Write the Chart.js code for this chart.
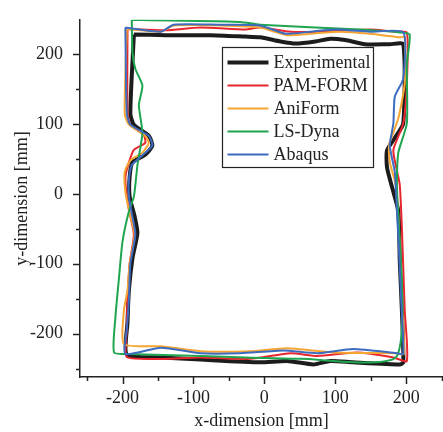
<!DOCTYPE html>
<html>
<head>
<meta charset="utf-8">
<script src="https://cdn.jsdelivr.net/npm/chart.js@4/dist/chart.umd.min.js"></script>
<style>
  html, body { margin: 0; padding: 0; background: #fff; }
  #wrap { width: 443px; height: 432px; }
</style>
</head>
<body>
<div id="wrap"><canvas id="myChart" width="443" height="432"></canvas></div>
<script>
// outlines of the formed part, traced clockwise from the top-left corner [x, y] in mm
const experimental = [
  [-184, 228], [-139, 227], [-76, 227], [-27, 225], [-6, 224], [23, 218], [44, 215], [72, 218],
  [93, 222], [114, 220], [142, 214], [177, 214], [196, 214],
  [196, 101], [184, 80], [173, 62], [173, 38], [180, 10], [189, -25], [191, -96], [194, -166], [196, -241],
  [191, -244], [125, -241], [93, -239], [69, -244], [32, -239], [-6, -241], [-90, -237], [-146, -234], [-194, -230],
  [-193, -184], [-191, -138], [-186, -92], [-179, -56], [-183, -32], [-190, -4], [-190, 24], [-186, 45],
  [-168, 56], [-158, 69], [-163, 83], [-184, 99], [-189, 115], [-184, 228]
]
const pamForm = [
  [-193, 236], [-139, 234], [-90, 238], [-27, 235], [-6, 238], [37, 232], [79, 232], [149, 235], [184, 232], [201, 231],
  [201, 158], [196, 101], [182, 63], [186, 38], [191, 13], [194, -49], [198, -166], [201, -239],
  [182, -234], [131, -227], [75, -232], [37, -228], [-20, -236], [-90, -234], [-193, -234],
  [-194, -194], [-193, -152], [-190, -100], [-184, -58], [-190, -28], [-194, -4], [-196, 24], [-191, 45],
  [-184, 63], [-168, 73], [-170, 84], [-189, 99], [-193, 115], [-193, 236]
]
const aniForm = [
  [-194, 236], [-146, 232], [-128, 241], [-62, 241], [-6, 238], [32, 227], [65, 229], [107, 232], [149, 229], [191, 224], [198, 224],
  [198, 158], [189, 108], [176, 70], [177, 45], [186, 10], [190, -53], [194, -152], [197, -229],
  [187, -228], [97, -227], [32, -221], [-20, -225], [-90, -225], [-146, -218], [-198, -215],
  [-198, -166], [-193, -138], [-190, -100], [-183, -58], [-190, -28], [-196, 3], [-197, 31], [-189, 48],
  [-172, 59], [-163, 73], [-169, 84], [-191, 99], [-197, 115], [-194, 236]
]
const lsDyna = [
  [-187, 249], [-132, 248], [-34, 246], [-6, 242], [135, 235], [191, 231], [205, 228],
  [201, 186], [201, 101], [189, 59], [187, 17], [187, -232],
  [51, -236], [-90, -232], [-193, -229], [-212, -227],
  [-210, -176], [-205, -120], [-200, -68], [-191, -25], [-184, -4], [-179, 41], [-172, 87],
  [-177, 127], [-172, 155], [-182, 179], [-186, 203], [-187, 249]
]
const abaqus = [
  [-196, 238], [-146, 232], [-128, 242], [-62, 242], [-6, 241], [30, 229], [65, 232], [100, 235], [149, 232], [196, 231],
  [196, 165], [184, 139], [182, 101], [177, 69], [184, 31], [187, -25], [190, -82], [193, -152], [196, -229],
  [187, -228], [125, -222], [75, -228], [27, -224], [-34, -228], [-90, -228], [-146, -220], [-196, -229],
  [-194, -194], [-191, -152], [-189, -100], [-182, -58], [-187, -28], [-191, -4], [-191, 20], [-187, 41],
  [-172, 55], [-158, 69], [-163, 83], [-189, 99], [-194, 115], [-196, 238]
]

const seriesNames = ['Experimental', 'PAM-FORM', 'AniForm', 'LS-Dyna', 'Abaqus']
const seriesData = [experimental, pamForm, aniForm, lsDyna, abaqus]
const seriesColors = ['#1c1c1c', '#e8262d', '#f5a533', '#1fa450', '#3d6bbf']
const seriesWidths = [4, 2, 2, 2, 2]
const seriesOrder = [5, 4, 3, 2, 1]

const xTicks = [-200, -100, 0, 100, 200]
const yTicks = [-200, -100, 0, 100, 200]
const minorStep = 50

const FONT = 'Liberation Serif'
const TEXT = '#222'

// axis ticks, long at labelled values, short in between
const tickMarks = {
  id: 'tickMarks',
  afterDraw(chart) {
    const ctx = chart.ctx
    const { x, y } = chart.scales
    ctx.save()
    ctx.strokeStyle = '#222'
    ctx.lineWidth = 1.5
    for (let v = -250; v <= 250; v += minorStep) {
      const len = v % 100 === 0 ? 7 : 4
      if (v >= x.min && v <= x.max) {
        const px = Math.round(x.getPixelForValue(v)) + 0.5
        ctx.beginPath(); ctx.moveTo(px, x.top); ctx.lineTo(px, x.top + len); ctx.stroke()
      }
      if (v >= y.min && v <= y.max) {
        const py = Math.round(y.getPixelForValue(v)) + 0.5
        ctx.beginPath(); ctx.moveTo(y.right - len, py); ctx.lineTo(y.right, py); ctx.stroke()
      }
    }
    ctx.restore()
  }
}

// boxed legend inside the plot
const boxLegend = {
  id: 'boxLegend',
  afterDraw(chart) {
    const ctx = chart.ctx
    const a = chart.chartArea
    const bx = a.left + 142.5, by = 47.5, bw = 151, bh = 120
    ctx.save()
    ctx.fillStyle = '#fff'
    ctx.fillRect(bx, by, bw, bh)
    ctx.strokeStyle = '#222'
    ctx.lineWidth = 1.2
    ctx.strokeRect(bx, by, bw, bh)
    ctx.font = '18px "' + FONT + '"'
    ctx.textBaseline = 'middle'
    chart.data.datasets.forEach((ds, i) => {
      const ly = by + 15 + i * 23
      ctx.strokeStyle = ds.borderColor
      ctx.lineWidth = ds.borderWidth
      ctx.beginPath(); ctx.moveTo(bx + 5, ly); ctx.lineTo(bx + 46, ly); ctx.stroke()
      ctx.fillStyle = TEXT
      ctx.fillText(ds.label, bx + 51, ly + 1)
    })
    ctx.restore()
  }
}

const ctx = document.getElementById('myChart')

new Chart(ctx, {
  type: 'scatter',
  data: {
    datasets: seriesNames.map((name, i) => ({
      label: name,
      data: seriesData[i].map(p => ({ x: p[0], y: p[1] })),
      showLine: true,
      borderColor: seriesColors[i],
      backgroundColor: seriesColors[i],
      borderWidth: seriesWidths[i],
      pointRadius: 0,
      tension: 0.2,
      order: seriesOrder[i]
    }))
  },
  options: {
    responsive: false,
    animation: false,
    layout: { padding: { top: 3, right: 0, left: 0, bottom: 0 } },
    plugins: { legend: { display: false }, tooltip: { enabled: false } },
    scales: {
      x: {
        type: 'linear',
        min: -260,
        max: 252,
        afterBuildTicks: s => { s.ticks = xTicks.map(v => ({ value: v })) },
        afterFit: s => { s.height = 55 },
        grid: { display: false },
        border: { display: true, color: '#222', width: 1.5 },
        ticks: { color: TEXT, font: { family: FONT, size: 18 }, padding: 2, maxRotation: 0 },
        title: { display: true, text: 'x-dimension [mm]', color: TEXT, font: { family: FONT, size: 18 }, padding: { top: 0, bottom: 0 } }
      },
      y: {
        type: 'linear',
        min: -262,
        max: 249,
        afterBuildTicks: s => { s.ticks = yTicks.map(v => ({ value: v })) },
        afterFit: s => { s.width = 80 },
        grid: { display: false },
        border: { display: true, color: '#222', width: 1.5 },
        ticks: { color: TEXT, font: { family: FONT, size: 18 }, padding: 9 },
        title: { display: true, text: 'y-dimension [mm]', color: TEXT, font: { family: FONT, size: 18 }, padding: { top: 11, bottom: 0 } }
      }
    }
  },
  plugins: [tickMarks, boxLegend]
})
</script>
</body>
</html>
